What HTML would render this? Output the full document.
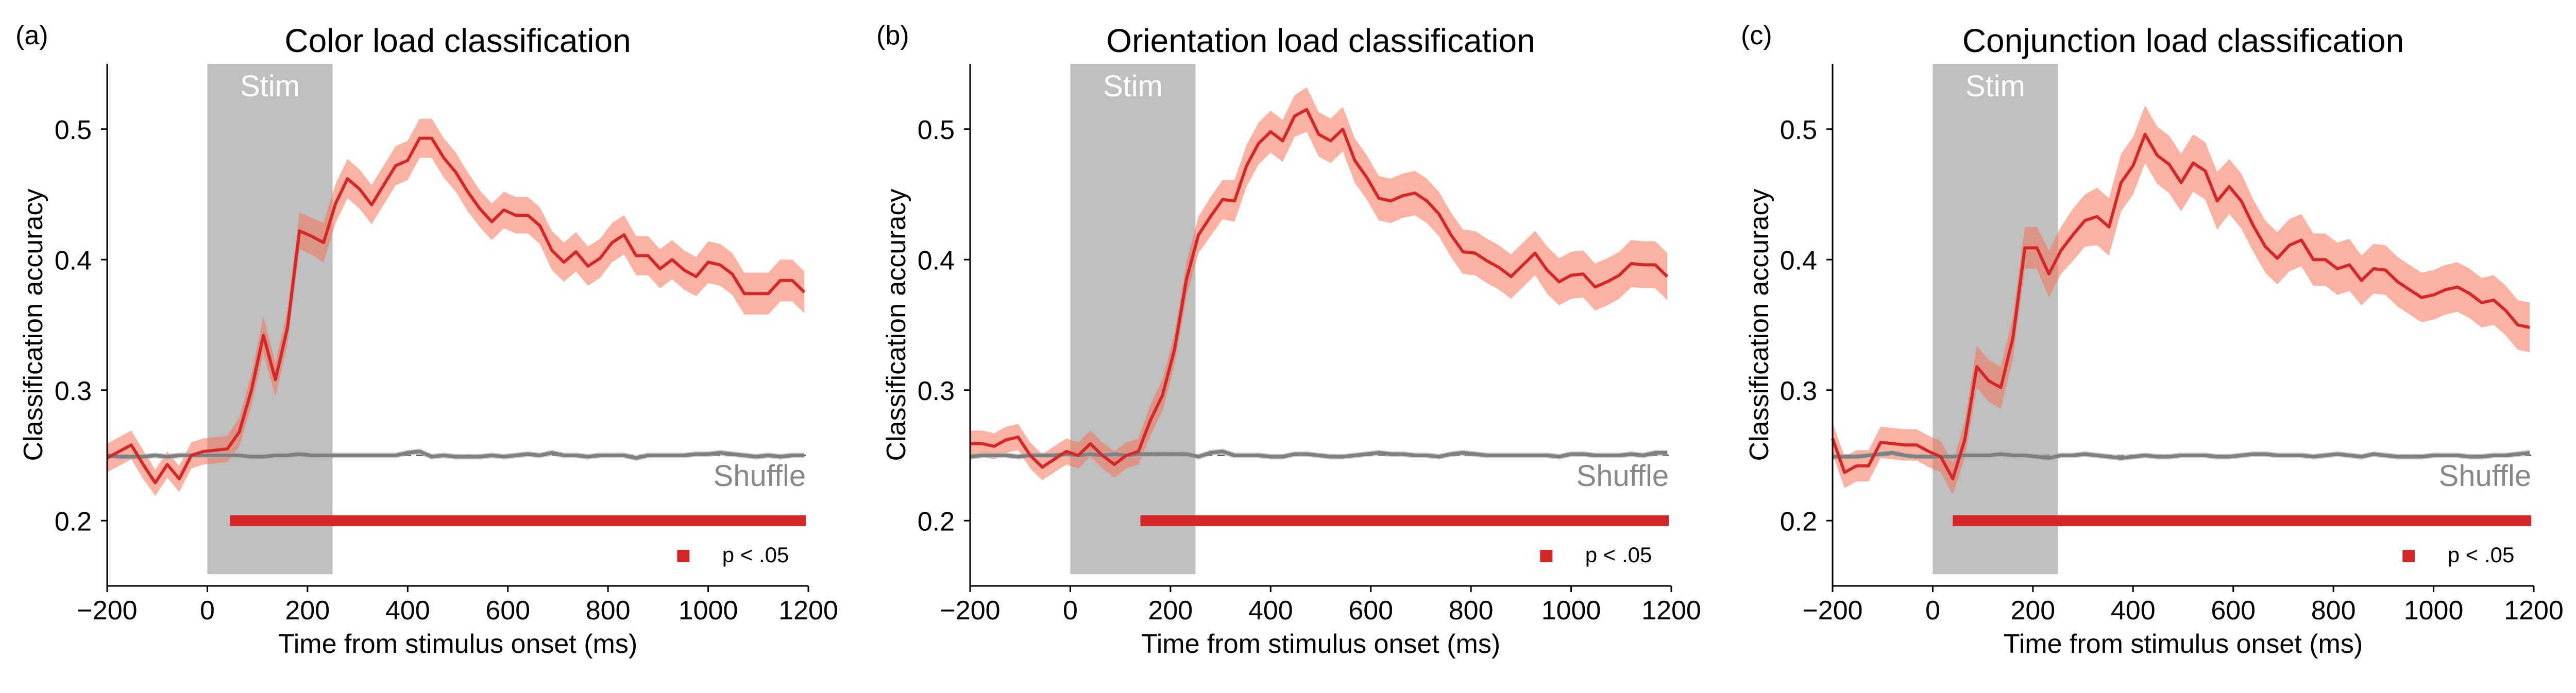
<!DOCTYPE html>
<html><head><meta charset="utf-8">
<style>
html,body{margin:0;padding:0;background:#fff;}
svg{display:block;font-family:"Liberation Sans",Arial,sans-serif;}
</style></head>
<body>
<svg id="fig" width="5041" height="1346" viewBox="0 0 5041 1346" xmlns="http://www.w3.org/2000/svg"></svg>
<script>
const times = [-200,-176,-152,-128,-104,-80,-56,-32,-8,16,40,64,88,112,136,160,184,208,232,256,280,304,328,352,376,400,424,448,472,496,520,544,568,592,616,640,664,688,712,736,760,784,808,832,856,880,904,928,952,976,1000,1024,1048,1072,1096,1120,1144,1168,1192];
const xTicks = [-200,0,200,400,600,800,1000,1200];
const xTickLabels = ["\u2212200","0","200","400","600","800","1000","1200"];
const yTicks = [0.2,0.3,0.4,0.5];
const yTickLabels = ["0.2","0.3","0.4","0.5"];
const titles = ["Color load classification","Orientation load classification","Conjunction load classification"];
const panelLabels = ["(a)","(b)","(c)"];
const sigStart = [45,140,40];
const sigEnd = [1195,1195,1195];
const stimWindow = [0,250];

const accA = [.248,.253,.258,.243,.229,.243,.232,.250,.253,.254,.255,.268,.300,.342,.308,.348,.422,.418,.413,.443,.462,.454,.442,.457,.472,.476,.493,.493,.478,.467,.452,.439,.429,.438,.434,.434,.426,.407,.398,.406,.395,.401,.413,.419,.403,.403,.393,.400,.392,.387,.398,.396,.389,.374,.374,.374,.384,.384,.375];
const accB = [.259,.259,.257,.262,.264,.250,.241,.247,.253,.250,.259,.250,.243,.250,.253,.277,.296,.331,.385,.419,.433,.446,.445,.472,.489,.498,.491,.510,.515,.496,.491,.500,.476,.463,.447,.445,.449,.451,.445,.435,.419,.406,.405,.399,.394,.387,.396,.405,.392,.383,.388,.389,.379,.383,.388,.397,.396,.396,.387];
const accC = [.263,.237,.242,.242,.260,.259,.258,.258,.253,.249,.232,.262,.318,.307,.302,.340,.409,.409,.389,.407,.419,.430,.433,.425,.459,.472,.496,.480,.473,.459,.474,.468,.445,.456,.445,.426,.410,.401,.411,.415,.400,.400,.393,.396,.384,.393,.392,.383,.377,.371,.373,.377,.379,.374,.367,.369,.361,.350,.348];
const errA = [.011,.011,.011,.011,.010,.010,.010,.010,.010,.010,.010,.011,.012,.014,.013,.013,.014,.014,.015,.015,.015,.015,.015,.015,.015,.015,.015,.015,.015,.015,.015,.014,.014,.014,.014,.014,.014,.015,.015,.015,.015,.015,.015,.015,.015,.015,.015,.015,.015,.015,.016,.016,.016,.016,.016,.016,.016,.016,.016];
const errB = [.010,.010,.010,.010,.010,.010,.010,.010,.010,.010,.010,.010,.010,.010,.010,.012,.012,.012,.013,.014,.015,.015,.016,.016,.016,.016,.016,.016,.017,.017,.017,.017,.017,.017,.017,.017,.017,.017,.017,.017,.017,.017,.017,.017,.017,.017,.017,.017,.018,.018,.018,.018,.018,.018,.018,.018,.018,.018,.018];
const errC = [.012,.012,.012,.012,.012,.012,.012,.012,.012,.012,.012,.014,.016,.016,.016,.016,.016,.016,.018,.018,.020,.020,.022,.022,.022,.022,.022,.022,.022,.022,.022,.022,.022,.021,.021,.020,.020,.020,.020,.020,.020,.020,.020,.020,.019,.019,.019,.019,.019,.019,.019,.019,.019,.019,.019,.019,.019,.019,.019];
const shufA = [.250,.249,.249,.249,.250,.249,.250,.250,.250,.250,.250,.250,.249,.249,.250,.250,.251,.250,.250,.250,.250,.250,.250,.250,.250,.252,.253,.249,.250,.249,.249,.249,.250,.249,.250,.251,.250,.252,.250,.250,.249,.250,.250,.250,.248,.250,.250,.250,.250,.251,.251,.252,.251,.250,.249,.250,.249,.250,.250];
const shufB = [.249,.250,.250,.250,.249,.250,.250,.250,.251,.250,.251,.250,.251,.250,.251,.251,.251,.251,.251,.249,.252,.253,.250,.250,.250,.249,.249,.251,.251,.250,.249,.249,.250,.251,.252,.251,.251,.250,.250,.249,.251,.252,.251,.250,.250,.250,.250,.250,.250,.249,.251,.251,.250,.250,.250,.251,.250,.252,.252];
const shufC = [.249,.249,.249,.250,.251,.252,.250,.249,.249,.249,.249,.250,.250,.250,.251,.250,.250,.249,.248,.250,.250,.251,.250,.249,.248,.249,.250,.249,.249,.250,.250,.250,.249,.249,.250,.251,.251,.250,.250,.250,.249,.250,.251,.250,.249,.251,.250,.249,.249,.249,.250,.250,.250,.249,.249,.250,.250,.251,.252];

const accs = [accA,accB,accC];
const errs = [errA,errB,errC];
const shufs = [shufA,shufB,shufC];

const NS = "http://www.w3.org/2000/svg";
const svg = document.getElementById('fig');
const axesX = [[208,1569],[1883,3244],[3557,4918]];
const yLabelX = [64,1739,3414];
const panelLabelX = [30,1701,3379];
const Y0 = 1138, Y1 = 124, V0 = 0.15, V1 = 0.55;
function yScale(v){ return Y0 + (v - V0) / (V1 - V0) * (Y1 - Y0); }

function mk(tag, attrs, parent){
  const e = document.createElementNS(NS, tag);
  for (const k in attrs) e.setAttribute(k, attrs[k]);
  (parent || svg).appendChild(e);
  return e;
}

for (let p = 0; p < 3; p++) {
  const [xa, xb] = axesX[p];
  const xScale = t => xa + (t + 200) / 1400 * (xb - xa);
  const g = mk('g', {});
  
  

  const stim = mk('rect', {x: xScale(stimWindow[0]), y: yScale(0.55), width: xScale(stimWindow[1]) - xScale(stimWindow[0]), height: yScale(0.159) - yScale(0.55), fill: '#bfbfbf'}, g);
  
  
  const stimT = mk('text', {x: xScale(125), y: 187, 'font-size': 58, fill: '#fff', 'text-anchor': 'middle'}, g);
  stimT.textContent = 'Stim';
  
  

  const ch = mk('line', {x1: xa, x2: xScale(1195), y1: yScale(0.25), y2: yScale(0.25), stroke: '#606060', 'stroke-width': 3, 'stroke-dasharray': '14,10'}, g);
  
  

  const acc = accs[p], err = errs[p], sh = shufs[p];
  let d = '';
  times.forEach((t, i) => { d += (i ? 'L' : 'M') + xScale(t).toFixed(1) + ',' + yScale(acc[i] + err[i]).toFixed(1); });
  for (let i = times.length - 1; i >= 0; i--) d += 'L' + xScale(times[i]).toFixed(1) + ',' + yScale(acc[i] - err[i]).toFixed(1);
  const band = mk('path', {d: d + 'Z', fill: 'rgb(249,110,81)', 'fill-opacity': 0.53}, g);
  
  

  const sp = times.map((t, i) => xScale(t).toFixed(1) + ',' + yScale(sh[i]).toFixed(1)).join(' ');
  const sbd = mk('polyline', {points: sp, fill: 'none', stroke: '#b0b0b0', 'stroke-width': 11, 'stroke-linejoin': 'round', 'stroke-opacity': 0.6}, g);
  
  
  const sl = mk('polyline', {points: sp, fill: 'none', stroke: '#808080', 'stroke-width': 7, 'stroke-linejoin': 'round'}, g);
  
  

  const ap = times.map((t, i) => xScale(t).toFixed(1) + ',' + yScale(acc[i]).toFixed(1)).join(' ');
  const al = mk('polyline', {points: ap, fill: 'none', stroke: '#d62728', 'stroke-width': 6, 'stroke-linejoin': 'round'}, g);
  
  

  const sb = mk('rect', {x: xScale(sigStart[p]), y: yScale(0.2) - 10.5, width: xScale(sigEnd[p]) - xScale(sigStart[p]), height: 21, fill: '#d62728'}, g);
  
  

  const st = mk('text', {x: xScale(1195), y: 944, 'font-size': 58, fill: '#888', 'text-anchor': 'end'}, g);
  st.textContent = 'Shuffle';
  
  

  const lg = mk('rect', {x: xScale(938), y: 1068, width: 24, height: 24, fill: '#d62728', rx: 2}, g);
  
  
  const lt = mk('text', {x: xScale(1028), y: 1092, 'font-size': 42, fill: '#000'}, g);
  lt.textContent = 'p < .05';
  
  

  const ya = mk('line', {x1: xa, x2: xa, y1: yScale(0.55), y2: yScale(0.15) + 1.5, stroke: '#000', 'stroke-width': 3}, g);
  
  
  const xax = mk('line', {x1: xa - 1.5, x2: xb, y1: yScale(0.15), y2: yScale(0.15), stroke: '#000', 'stroke-width': 3}, g);
  
  

  xTicks.forEach((t, i) => {
    const tk = mk('line', {x1: xScale(t), x2: xScale(t), y1: yScale(0.15), y2: yScale(0.15) + 12, stroke: '#000', 'stroke-width': 3}, g);
    
    
    const tl = mk('text', {x: xScale(t), y: 1203, 'font-size': 52, 'text-anchor': 'middle'}, g);
    tl.textContent = xTickLabels[i];
    
    
  });
  yTicks.forEach((v, i) => {
    const tk = mk('line', {x1: xa - 12, x2: xa, y1: yScale(v), y2: yScale(v), stroke: '#000', 'stroke-width': 3}, g);
    
    
    const tl = mk('text', {x: xa - 30, y: yScale(v) + 19, 'font-size': 52, 'text-anchor': 'end'}, g);
    tl.textContent = yTickLabels[i];
    
    
  });

  const xl = mk('text', {x: (xa + xb) / 2, y: 1268, 'font-size': 52, 'text-anchor': 'middle'}, g);
  xl.textContent = 'Time from stimulus onset (ms)';
  
  
  const yl = mk('text', {x: 0, y: 0, 'font-size': 52, 'text-anchor': 'middle', transform: 'translate(' + (yLabelX[p] + 18) + ',631) rotate(-90)'}, g);
  yl.textContent = 'Classification accuracy';
  
  

  const tt = mk('text', {x: (xa + xb) / 2, y: 101, 'font-size': 64, 'text-anchor': 'middle'}, g);
  tt.textContent = titles[p];
  
  
  const pl = mk('text', {x: panelLabelX[p], y: 86, 'font-size': 52}, g);
  pl.textContent = panelLabels[p];
  
  
}
</script>
</body></html>
